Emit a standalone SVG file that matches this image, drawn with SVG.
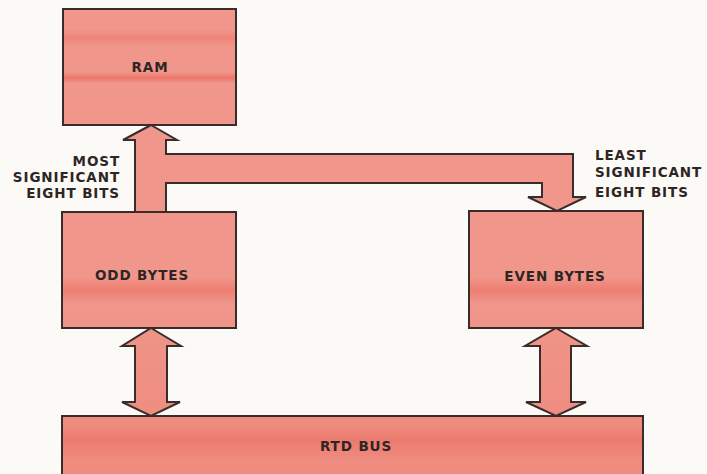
<svg xmlns="http://www.w3.org/2000/svg" width="707" height="474" viewBox="0 0 707 474">
<defs>
<linearGradient id="band" gradientUnits="userSpaceOnUse" x1="0" y1="0" x2="0" y2="474">
<stop offset="0" stop-color="#F0968A"/>
<stop offset="0.063" stop-color="#F0968A"/>
<stop offset="0.080" stop-color="#EE8377"/>
<stop offset="0.097" stop-color="#F0968A"/>
<stop offset="0.152" stop-color="#F0968A"/>
<stop offset="0.165" stop-color="#EC766C"/>
<stop offset="0.175" stop-color="#F0968A"/>
<stop offset="0.585" stop-color="#F0968A"/>
<stop offset="0.612" stop-color="#EE7E72"/>
<stop offset="0.640" stop-color="#F0968A"/>
<stop offset="0.895" stop-color="#EF8C80"/>
<stop offset="0.928" stop-color="#EC7A6E"/>
<stop offset="0.970" stop-color="#EF8C80"/>
<stop offset="1" stop-color="#EF8C80"/>
</linearGradient>
</defs>
<style>
.box{fill:url(#band);stroke:#3A2C2A;stroke-width:2}
.arrow{fill:url(#band);stroke:#3A2C2A;stroke-width:2;stroke-linejoin:miter}
.t{font-family:"DejaVu Sans",sans-serif;font-weight:bold;font-size:13.5px;fill:#2E2624;letter-spacing:0.9px}
.c{text-anchor:middle}
.e{text-anchor:end}
</style>
<rect width="707" height="474" fill="#FBFAF6"/>
<g id="connectors">
<path class="arrow" d="M151,125 L177,140 L166,140 L166,154 L573,154 L573,197 L586,197 L557,211 L528,197 L542,197 L542,183 L166,183 L166,212 L135,212 L135,140 L123,140 Z"/>
<path class="arrow" d="M151,328 L181,346 L167,346 L167,402 L180,402 L151,416 L122,402 L135,402 L135,346 L122,346 Z"/>
<path class="arrow" d="M556,328 L587,346 L571,346 L571,402 L586,402 L556,416 L526,402 L540,402 L540,346 L525,346 Z"/>
</g>
<g id="ram">
<rect class="box" x="63" y="9" width="173" height="116"/>
<text class="t c" x="150" y="72">RAM</text>
</g>
<g id="odd-bytes">
<rect class="box" x="62" y="212" width="174" height="116"/>
<text class="t c" x="142" y="280">ODD BYTES</text>
</g>
<g id="even-bytes">
<rect class="box" x="469" y="211" width="174" height="117"/>
<text class="t c" x="555" y="281">EVEN BYTES</text>
</g>
<g id="rtd-bus">
<path class="box" d="M62,474 L62,416 L643,416 L643,474"/>
<text class="t c" x="356" y="451">RTD BUS</text>
</g>
<g id="labels">
<text class="t e" x="120" y="166">MOST</text>
<text class="t e" x="120" y="182">SIGNIFICANT</text>
<text class="t e" x="120" y="198">EIGHT BITS</text>
<text class="t" x="595" y="160">LEAST</text>
<text class="t" x="595" y="177">SIGNIFICANT</text>
<text class="t" x="595" y="197">EIGHT BITS</text>
</g>
</svg>
